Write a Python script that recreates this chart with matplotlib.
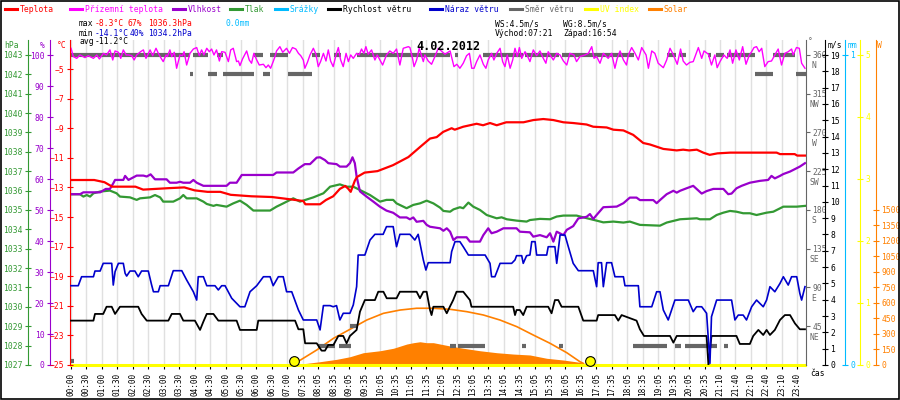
import numpy as np
import matplotlib
matplotlib.use('Agg')
import matplotlib.pyplot as plt
from matplotlib.lines import Line2D
from matplotlib.patches import Rectangle
from matplotlib import transforms

plt.rcParams['font.family'] = ['DejaVu Sans Mono', 'DejaVu Sans']
plt.rcParams['font.size'] = 5.8

# x axis is the sample index (one sample ~ every 5 minutes, a label every 6 samples)
time_labels = ['00:00', '00:30', '01:00', '01:30', '02:00', '02:30', '03:00', '03:30',
               '04:00', '04:30', '05:00', '05:30', '06:00', '06:30', '07:00', '07:35',
               '08:05', '08:35', '09:05', '09:35', '10:05', '10:35', '11:05', '11:35',
               '12:05', '12:35', '13:05', '13:35', '14:05', '14:35', '15:05', '15:35',
               '16:05', '16:35', '17:05', '17:35', '18:05', '18:35', '19:05', '19:35',
               '20:05', '20:35', '21:10', '21:40', '22:10', '22:40', '23:10', '23:40']

# Teplota (degC)
temp_idx = [0, 9, 13, 16, 25, 28, 33, 38, 44, 48, 53, 58, 62, 70, 78, 84, 90.2, 91, 96.7, 99,
            101.8, 104.4, 106.5, 107.7, 108.6, 110.2, 111, 114, 119, 125, 131, 136, 139.4, 142,
            144.5, 147.8, 149, 152.3, 157.5, 160, 162.7, 165.3, 169, 175.7, 179.5, 183.4, 187.3,
            191.2, 195, 200.2, 202.8, 208, 210.6, 214.5, 218.3, 222.2, 224.8, 230, 235.2, 237.7,
            240, 243, 245.5, 248, 251, 256, 274, 275.3, 281, 282, 285]
temp_val = [-12.5, -12.5, -12.65, -12.95, -12.95, -13.15, -13.1, -13.05, -13.0, -13.2, -13.3,
            -13.3, -13.5, -13.6, -13.65, -13.78, -13.92, -14.14, -14.14, -13.85, -13.6, -13.1,
            -12.9, -13.1, -13.3, -12.55, -12.3, -12.0, -11.9, -11.5, -10.95, -10.2, -9.7, -9.6,
            -9.25, -9.0, -9.1, -8.9, -8.7, -8.8, -8.65, -8.8, -8.6, -8.6, -8.45, -8.38, -8.45,
            -8.6, -8.65, -8.75, -8.9, -8.95, -9.1, -9.15, -9.45, -10.0, -10.1, -10.4, -10.5,
            -10.45, -10.5, -10.45, -10.65, -10.8, -10.7, -10.65, -10.65, -10.75, -10.75, -10.85,
            -10.85]

# Prizemni teplota (degC)
ground_idx = [0, 0.9, 2.2, 3.5, 5.4, 6.7, 8.7, 10, 11, 12.6, 13.8, 15.1, 16.2, 17.1, 18.4, 19.3,
              20.3, 21.4, 22.3, 23.6, 24.5, 25.5, 27, 28.1, 29.1, 30.7, 31.7, 33, 33.9, 35, 35.8,
              36.9, 37.4, 38.4, 39.1, 40.1, 41, 42.3, 43.3, 43.9, 44.9, 46.2, 47.5, 48.8, 49.8,
              50.7, 51.6, 52.7, 53.7, 54.6, 55.5, 56.5, 57.6, 58.5, 59.8, 61.1, 62, 63, 64.3, 65,
              65.6, 66.6, 68.2, 69.2, 70.1, 71, 72.1, 73.1, 74.7, 75.7, 76.6, 77.5, 78.5, 79.2,
              79.8, 81.1, 82.2, 83.1, 83.7, 84.8, 86, 87.3, 88.3, 89.2, 90.2, 90.8, 91.8, 92.8,
              94.1, 95.1, 96, 96.9, 98, 99, 99.9, 100.8, 101.8, 102.9, 103.8, 104.7, 105.7, 106.8,
              107.7, 108.6, 109.6, 110.9, 111.9, 112.8, 113.7, 114.5, 115.4, 116.7, 118, 118.9,
              121, 122.5, 123.8, 125.1, 126.4, 127.7, 129, 131, 131.6, 132.6, 133.2, 134.2, 135.2,
              136.8, 137.4, 138.7, 140, 141.3, 142.6, 145.2, 147.2, 148.7, 149.8, 151, 152.3,
              153.6, 154.7, 155.6, 156.5, 157.5, 158.8, 160.1, 161.1, 162, 163.3, 164.2, 165.3,
              166.6, 167.6, 168.5, 169.4, 170.5, 171.5, 172.4, 173.3, 174.1, 175, 176.3, 177.2,
              178.2, 179.5, 180.8, 182.1, 183.4, 184.4, 185.3, 186.2, 187.3, 188.6, 189.9, 191.2,
              192.5, 193.7, 195.3, 196.3, 197.6, 199.6, 200.9, 202.2, 203.1, 204.1, 205.4, 206.7,
              208.6, 209.9, 211.2, 212.1, 213.2, 214.5, 215.7, 216.4, 217.7, 219, 220.3, 221.6,
              223.3, 224.2, 225.5, 226.7, 228, 230, 231.3, 232.6, 233.9, 235.4, 236.7, 237.7, 239,
              240.3, 241.6, 243.6, 244.9, 245.8, 247.5, 248.7, 250, 250.9, 252, 253.5, 254.8,
              255.9, 256.9, 258.2, 259.5, 260.8, 262.1, 263.4, 264.3, 265.2, 266.2, 267.2, 268.2,
              269.4, 270.7, 272, 273.3, 274.6, 275.9, 277.2, 278.5, 279.8, 280.4, 281.7, 282.8,
              283.7, 285]
ground_val = [-3.6, -4.16, -4.28, -4.05, -4.23, -4.1, -4.28, -4.05, -4.32, -3.94, -4.05, -3.71,
              -4.39, -3.78, -3.87, -4.28, -3.71, -4.05, -4.05, -4.1, -4.39, -4.05, -3.83, -3.71,
              -4.28, -3.71, -4.1, -3.6, -3.94, -4.28, -4.5, -4.05, -4.16, -3.71, -4.16, -3.87,
              -4.95, -4.05, -4.1, -3.83, -4.73, -3.94, -3.65, -3.55, -4.1, -3.71, -4.05, -3.6,
              -3.83, -3.65, -4.05, -3.71, -4.46, -3.83, -3.87, -4.5, -3.71, -3.6, -4.5, -4.46,
              -4.77, -4.32, -3.78, -4.39, -4.61, -3.94, -4.39, -4.73, -4.68, -4.91, -4.73, -4.95,
              -4.5, -4.16, -3.78, -3.49, -3.87, -3.71, -3.6, -3.94, -3.55, -3.65, -3.94, -4.1,
              -4.39, -4.95, -4.55, -4.05, -3.6, -4.0, -4.84, -4.5, -3.94, -4.46, -3.71, -4.46,
              -4.84, -4.05, -3.55, -4.39, -4.84, -3.94, -4.5, -4.05, -4.28, -3.94, -4.05, -3.65,
              -3.94, -3.49, -4.0, -3.71, -4.39, -4.05, -4.73, -4.05, -3.78, -3.94, -3.65, -4.73,
              -3.6, -3.49, -3.55, -4.28, -4.84, -4.39, -3.6, -4.5, -4.05, -4.46, -4.68, -4.16,
              -3.6, -4.0, -3.78, -4.84, -4.68, -4.95, -4.61, -4.1, -3.94, -4.95, -4.95, -4.5,
              -4.05, -4.68, -4.95, -4.39, -3.94, -4.39, -3.94, -3.6, -4.5, -4.84, -4.05, -4.95,
              -4.39, -3.6, -4.16, -3.55, -4.28, -3.83, -4.1, -4.5, -3.71, -4.1, -3.78, -4.28,
              -4.61, -3.83, -4.1, -4.39, -3.94, -4.05, -4.46, -4.73, -3.94, -4.05, -4.5, -4.16,
              -4.05, -3.94, -3.49, -4.28, -4.16, -4.61, -3.94, -4.28, -3.94, -4.95, -4.28, -3.78,
              -4.39, -4.73, -4.05, -3.55, -3.94, -4.39, -3.55, -4.05, -4.95, -3.78, -3.94, -4.61,
              -4.91, -4.39, -3.6, -4.05, -4.68, -3.65, -4.46, -4.73, -4.55, -4.5, -3.55, -4.28,
              -3.78, -4.0, -4.73, -4.05, -4.91, -4.5, -4.05, -4.28, -3.71, -4.61, -3.71, -4.39,
              -3.49, -4.68, -4.05, -3.83, -3.55, -3.49, -3.83, -3.6, -4.84, -4.5, -4.46, -4.05,
              -3.65, -4.73, -3.94, -3.83, -3.65, -4.05, -3.55, -3.6, -4.61, -4.95]

# Vlhkost (%)
hum_idx = [0, 3.5, 4.8, 11.3, 13.5, 15.1, 16.4, 17.1, 20.3, 21, 22.3, 25.5, 28.1, 29.4, 30.9, 32.6,
           37.1, 38.4, 41, 42.3, 43.6, 46.2, 47.5, 48.8, 51.4, 60.4, 61.7, 64.3, 66.3, 78.5, 79.8,
           86.3, 88.3, 90.8, 92.8, 95.4, 96.7, 98.6, 99.9, 103.1, 104.4, 107, 108.3, 109.3, 110.2,
           110.9, 112.2, 114.8, 117.4, 119.9, 122.5, 125.1, 127.7, 130.3, 131.6, 132.9, 134.2,
           136.8, 138.1, 139.4, 143.3, 144.6, 145.9, 147.2, 148.5, 149.8, 153.6, 154.9, 158.8,
           160.1, 162, 163.3, 165.3, 167.9, 173, 174.3, 178.2, 179.5, 182.1, 184.7, 186, 187.3,
           188.6, 191.2, 192.5, 195, 197, 200.2, 201.5, 202.8, 204.1, 206.7, 211.9, 214.5, 217,
           219.6, 220.9, 226.1, 227.4, 228.7, 231.3, 233.9, 235.2, 236.5, 239, 241.6, 244.9,
           246.8, 249.4, 253.3, 255.2, 256.5, 258.4, 260.4, 263.6, 267.5, 270.7, 272, 273.3,
           275.3, 276.6, 279.2, 280.4, 283, 285]
hum_val = [55.1, 55.1, 55.7, 55.7, 56.8, 56.8, 58.6, 59.7, 59.7, 61.0, 59.7, 61.1, 61.1, 60.8, 61.5,
           59.9, 59.9, 58.8, 58.8, 59.1, 58.8, 58.8, 59.7, 58.8, 57.8, 57.8, 58.8, 58.8, 61.3, 61.3,
           62.1, 62.1, 63.4, 64.8, 64.8, 66.9, 67.0, 66.1, 65.1, 64.8, 64.0, 64.0, 65.1, 67.0,
           65.1, 60.8, 56.0, 54.3, 52.7, 51.1, 49.8, 49.1, 47.6, 47.6, 47.0, 47.6, 46.2, 46.5,
           45.2, 44.6, 44.1, 43.3, 44.1, 43.0, 40.3, 41.2, 41.2, 39.8, 39.8, 41.9, 44.1, 42.5,
           43.0, 44.1, 44.1, 43.0, 42.8, 41.4, 41.9, 41.2, 42.5, 39.8, 43.0, 41.9, 43.6, 44.8,
           47.3, 47.8, 48.7, 47.1, 48.4, 50.9, 51.1, 52.2, 54.0, 54.0, 53.2, 53.2, 52.2, 53.2,
           55.1, 56.2, 55.6, 56.2, 57.0, 57.8, 55.3, 56.1, 56.8, 56.8, 55.1, 55.3, 57.0, 57.8,
           58.8, 59.4, 59.7, 61.0, 60.2, 61.0, 61.6, 62.4, 62.9, 64.0, 65.1]

# Tlak (hPa)
pres_idx = [0, 3.5, 4.8, 6.1, 7.4, 8.7, 11.3, 15.1, 17.7, 19, 22.9, 25.5, 26.8, 30.7, 32.6, 34.6,
            35.8, 39.7, 42.3, 43.6, 44.9, 48.8, 51.4, 52.7, 55.3, 56.5, 60.4, 63, 65.6, 68.2, 70.8,
            77.3, 79.8, 82.4, 86.3, 88.9, 94.1, 98, 100.6, 104.4, 107, 109.6, 112.2, 116.1, 120,
            122.5, 125.1, 126.4, 130.3, 132.9, 135.5, 138.1, 140.7, 143.3, 144.6, 147.2, 148.5,
            151, 152.3, 154.3, 156.2, 158.8, 161.4, 165.3, 167.2, 169.2, 173, 176.9, 178.2, 182.1,
            186, 188.6, 191.2, 196.3, 198.9, 204.1, 206.7, 210.6, 214.5, 217, 220.9, 228.7, 231.3,
            236.5, 243, 244.2, 248.1, 250.7, 253.3, 255.9, 258.4, 261, 263.6, 266.2, 270.1, 272.7,
            276.6, 281.8, 285]
pres_val = [1035.81, 1035.81, 1035.69, 1035.77, 1035.69, 1035.86, 1035.95, 1036.0, 1035.86,
            1035.69, 1035.65, 1035.52, 1035.6, 1035.65, 1035.77, 1035.65, 1035.43, 1035.43,
            1035.6, 1035.77, 1035.6, 1035.6, 1035.43, 1035.31, 1035.21, 1035.26, 1035.17,
            1035.34, 1035.48, 1035.26, 1034.97, 1034.97, 1035.17, 1035.34, 1035.6, 1035.43,
            1035.65, 1035.86, 1036.2, 1036.32, 1036.2, 1036.2, 1036.03, 1035.77, 1035.43,
            1035.52, 1035.52, 1035.34, 1035.09, 1035.26, 1035.34, 1035.48, 1035.34, 1035.12,
            1034.95, 1034.91, 1035.03, 1035.14, 1035.09, 1035.38, 1035.17, 1035.0, 1034.74,
            1034.57, 1034.62, 1034.52, 1034.45, 1034.4, 1034.48, 1034.54, 1034.52, 1034.66,
            1034.71, 1034.71, 1034.62, 1034.45, 1034.36, 1034.4, 1034.35, 1034.4, 1034.23,
            1034.19, 1034.35, 1034.52, 1034.57, 1034.52, 1034.52, 1034.74, 1034.86, 1034.95,
            1034.91, 1034.83, 1034.83, 1034.74, 1034.86, 1034.91, 1035.17, 1035.17, 1035.21]

# Rychlost vetru (m/s)
speed_idx = [0, 8.7, 9.3, 12.5, 13.8, 15.8, 17.1, 19, 26.1, 27.4, 29.4, 37.8, 39.1, 42.3, 43.6,
             48.1, 50.1, 51.4, 52.7, 55.3, 57.2, 64.3, 65.6, 72.1, 72.7, 87, 88.3, 90.2, 90.9,
             95.4, 97.3, 98.6, 99.9, 101.9, 103.8, 105.7, 107, 108.3, 110.9, 112.2, 114.1, 118,
             119.3, 121.3, 122.6, 126.4, 127.7, 134.2, 135.5, 136.8, 138.1, 139.4, 140, 140.7,
             144.6, 145.9, 147.1, 148.4, 149.7, 152.3, 154.9, 155.5, 171.7, 172.4, 173, 174.3,
             175.6, 176.9, 185.3, 186.6, 187.9, 189.2, 190.5, 197, 198.9, 204.1, 204.7, 211.2,
             212.5, 213.8, 219.6, 220.9, 222.5, 232.6, 233.9, 235.2, 246.8, 247.5, 248.7, 258.4,
             259.7, 263.6, 264.9, 266.9, 268.8, 270.1, 271.4, 273.3, 275.3, 277.2, 279.2, 281.1,
             283, 285]
speed_val = [2.72, 2.72, 3.13, 3.13, 3.57, 3.57, 3.13, 3.57, 3.57, 3.13, 2.72, 2.72, 3.13, 3.13,
             2.72, 2.72, 2.15, 2.66, 3.13, 3.13, 2.72, 2.72, 2.15, 2.15, 2.72, 2.72, 2.19, 2.19,
             1.33, 1.33, 0.88, 0.88, 1.23, 1.23, 1.78, 1.78, 1.33, 1.78, 2.15, 3.27, 3.98, 3.98,
             4.49, 4.49, 4.09, 4.09, 4.49, 4.49, 4.09, 4.49, 4.49, 3.37, 3.06, 3.57, 3.57, 3.17,
             3.57, 3.98, 4.49, 4.49, 3.98, 3.57, 3.57, 3.06, 3.37, 3.37, 3.06, 3.57, 3.57, 3.17,
             3.98, 3.98, 3.57, 3.57, 2.72, 2.72, 3.06, 3.06, 2.72, 3.06, 2.72, 2.19, 1.78, 1.78,
             1.37, 1.78, 1.78, 0.0, 1.78, 1.78, 1.29, 1.29, 1.78, 2.15, 1.84, 2.15, 1.84, 2.15,
             2.76, 3.06, 3.06, 2.55, 2.19, 2.19]

# Naraz vetru (m/s)
gust_idx = [0, 2.8, 4.1, 8.7, 9.3, 11.3, 12.5, 15.8, 16.4, 17.1, 18.4, 20.3, 21, 21.6, 22.9, 24.8,
            26.1, 27.4, 30, 31.3, 32, 33.9, 34.6, 37.8, 39.7, 43, 44.9, 47.5, 48.8, 49.4, 51.4,
            52.7, 55.9, 57.2, 58.5, 59.8, 62.4, 65.6, 67.5, 69.5, 72.1, 74.7, 77.3, 78.5, 80.5,
            82.4, 83.7, 85.7, 88.3, 90.2, 95.4, 96.7, 98, 100.6, 101.8, 103.1, 104.4, 105.7, 108.3,
            109.6, 110.9, 111.5, 114.1, 116.1, 118, 121.2, 122.5, 125.1, 126.4, 127.7, 131.6,
            133.5, 134.8, 136.8, 137.8, 138.7, 147.2, 147.8, 149.1, 151, 152.3, 154.3, 160.8,
            162.7, 163.3, 164.6, 166.6, 171.1, 172.4, 173, 175, 175.6, 176.9, 178.2, 178.9, 180.2,
            180.8, 184.7, 185.3, 187.9, 188.6, 189.9, 191.8, 193.1, 195, 197, 202.8, 204.1, 204.7,
            206, 206.7, 208, 209.9, 211.2, 214.5, 215.1, 220.3, 220.9, 225.5, 227.4, 228.7, 230,
            231.9, 234.5, 239.7, 241.6, 242.9, 244.9, 246.8, 248.1, 248.7, 250.7, 256.5, 257.8,
            259.1, 261, 262.3, 264.3, 266.2, 268.8, 270.1, 271.4, 273.3, 275.3, 276.6, 278.5,
            279.8, 281.8, 283, 283.7, 285]
gust_val = [4.86, 4.86, 5.41, 5.41, 5.76, 5.76, 6.23, 6.23, 4.9, 5.72, 6.23, 6.23, 5.62, 5.45,
            5.76, 5.76, 5.41, 5.76, 5.76, 4.9, 4.49, 4.49, 4.86, 4.86, 5.78, 5.78, 5.21, 4.49,
            3.98, 5.41, 5.41, 4.86, 4.86, 4.6, 4.86, 4.86, 4.09, 3.57, 3.57, 4.49, 4.86, 5.41,
            5.41, 4.86, 5.41, 5.41, 4.49, 4.49, 3.37, 2.76, 2.76, 2.15, 3.64, 3.64, 3.57, 3.64,
            2.76, 3.17, 3.17, 3.68, 4.8, 6.74, 6.74, 7.66, 8.01, 8.01, 8.48, 8.48, 7.25, 8.01,
            8.01, 7.66, 8.01, 6.44, 5.82, 6.27, 6.27, 6.95, 7.56, 7.56, 7.25, 6.74, 6.74, 6.23,
            5.41, 5.41, 6.23, 6.23, 6.44, 6.7, 6.7, 6.23, 6.7, 6.74, 7.56, 7.56, 6.74, 6.74, 7.25,
            7.25, 6.23, 7.97, 7.97, 7.25, 6.23, 5.78, 5.78, 4.8, 6.27, 6.27, 4.8, 6.27, 6.27,
            5.41, 5.41, 4.86, 4.86, 3.57, 3.57, 4.49, 4.49, 3.37, 2.76, 3.98, 3.98, 3.27, 3.57,
            3.57, 3.17, 0.1, 2.96, 3.98, 3.98, 2.76, 3.06, 3.06, 2.76, 3.57, 3.98, 3.57, 3.98,
            4.8, 4.49, 5.0, 5.41, 4.9, 5.41, 5.41, 4.39, 3.98, 4.8]

# Smer vetru (deg): runs of samples with the same direction
dir_start = [0, 0, 47.3, 56.6, 71.1, 77.3, 93.5, 102.1, 110.9, 149.1, 160, 176.3, 190.7, 231.5,
             236.5, 247.4, 250.5, 254.7, 272.6, 46.2, 53.3, 59.1, 74.4, 84.4, 265.6, 281.5,
             95.9, 104.1, 147.2, 150.3, 175.1, 189.5, 218.2, 234.6, 238.4, 248.2, 253.6, 108.3]
dir_end = [1, 46.2, 53.3, 59.1, 74.4, 84.4, 96.7, 104.7, 147.2, 150.3, 175.5, 189.5, 218.6, 235,
           238.8, 248.6, 253.6, 265.6, 281.1, 47.3, 56.6, 71.1, 77.3, 93.5, 272.6, 285.4,
           102.5, 108.7, 149.5, 160.8, 176.7, 191, 231.5, 236.9, 247, 250.9, 255, 111.4]
dir_deg = [5, 360, 360, 360, 360, 360, 360, 360, 360, 360, 360, 360, 360, 360, 360, 360, 360, 360,
           360, 337.5, 337.5, 337.5, 337.5, 337.5, 337.5, 337.5, 22.5, 22.5, 22.5, 22.5, 22.5,
           22.5, 22.5, 22.5, 22.5, 22.5, 22.5, 45]

# UV index
uv_idx = [0, 285]
uv_val = [0, 0]

# Solar (W/m2): measured and the clear-sky curve
solar_idx = [87, 91.5, 96.7, 103.2, 108.3, 113.5, 120, 125.2, 130.4, 133, 135.5, 138, 140.7, 143.3,
             147.2, 152.3, 158.8, 165.3, 171.7, 178.2, 184.7, 191.2, 197.6, 201.5]
solar_val = [5, 16, 32, 55, 80, 119, 138, 162, 203, 216, 225, 216, 216, 203, 184, 162, 138, 119,
             106, 97, 65, 48, 26, 5]
clear_idx = [87.0, 95.4, 101.9, 108.3, 114.8, 121.3, 127.8, 134.2, 140.7, 147.2, 153.7, 160.1,
             166.6, 173.1, 179.5, 186.0, 192.5, 197.6, 198.9]
clear_val = [16, 145, 258, 345, 435, 500, 532, 549, 549, 539, 516, 484, 435, 371, 290, 210, 119,
             32, 16]

sun_idx = [86.7, 201.5]   # vychod 07:21, zapad 16:54

RED = '#FF0000'
MAGENTA = '#FF00FF'
PURPLE = '#9900CC'
GREEN = '#339933'
SKY = '#00BBFF'
BLUE = '#0000CC'
GRAY = '#666666'
YELLOW = '#FFFF00'
ORANGE = '#FF8000'


def fx(px):
    return px / 900.0


def fy(py):
    return 1 - py / 400.0


fig = plt.figure(figsize=(9, 4), dpi=100)
AX_W = 736.0
ax = fig.add_axes([fx(70), 35 / 400.0, AX_W / 900.0, 325 / 400.0])

# base axes: pressure + grid + time axis
ax.set_xlim(-0.4, 285.4)
ax.set_ylim(1027, 1043.77)
ax.set_yticks(range(1027, 1044))
ax.set_yticks(range(1029, 1044, 2), minor=True)
ax.set_xticks(np.arange(len(time_labels)) * 6)
ax.set_xticklabels(time_labels, rotation=90)
ax.grid(True, which='minor', axis='y', color='#e0e0e0', lw=1)
ax.grid(True, which='major', axis='x', color='#e0e0e0', lw=1)
ax.set_axisbelow(True)
ax.tick_params(axis='y', which='minor', length=0)
ax.tick_params(axis='y', which='major', colors=GREEN, direction='inout', length=5, pad=1.5)
ax.tick_params(axis='x', direction='out', length=3, pad=3, labelsize=5.6)
ax.spines['left'].set_position(('axes', -42 / AX_W))
ax.spines['left'].set_color(GREEN)
ax.spines['top'].set_visible(False)
ax.spines['right'].set_visible(False)
ax.plot(pres_idx, pres_val, color=GREEN, lw=1.6)


def side_axis(side, pos, color, lim, ticks, tick_dir='inout', length=5):
    a = ax.twinx()
    a.set_ylim(*lim)
    for s in a.spines.values():
        s.set_visible(False)
    a.spines[side].set_visible(True)
    a.spines[side].set_position(('axes', pos))
    a.spines[side].set_color(color)
    a.yaxis.set_ticks_position(side)
    a.set_yticks(ticks)
    a.tick_params(axis='y', colors=color, direction=tick_dir, length=length, pad=1.5)
    a.patch.set_visible(False)
    return a


ax_s = side_axis('right', 1 + 70 / AX_W, ORANGE, (0, 3145), range(0, 1501, 150))
ax_s.fill_between(solar_idx, solar_val, 0, color=ORANGE, lw=0)
ax_s.plot(clear_idx, clear_val, color=ORANGE, lw=1.2)

ax_uv = side_axis('right', 1 + 54 / AX_W, YELLOW, (0, 5.24), range(0, 6))
ax_uv.plot(uv_idx, uv_val, color=YELLOW, lw=2.2, clip_on=False)

ax_r = side_axis('right', 1 + 39 / AX_W, SKY, (0, 1.048), [0, 1])

ax_d = side_axis('right', 1.0, GRAY, (0, 377.4), range(45, 361, 45), tick_dir='out', length=3)
ax_d.hlines(dir_deg, dir_start, dir_end, colors=GRAY, lw=3.0)
dir_names = ['NE', 'E', 'SE', 'S', 'SW', 'W', 'NW', 'N']
lab_tr = transforms.offset_copy(transforms.blended_transform_factory(ax_d.transAxes, ax_d.transData),
                                fig=fig, x=8, y=-11, units='dots')
for deg, name in zip(range(45, 361, 45), dir_names):
    ax_d.text(1.0, deg, name, color=GRAY, transform=lab_tr, ha='center', va='center')

ax_h = side_axis('left', -20 / AX_W, PURPLE, (0, 104.84), range(0, 101, 10))
ax_h.plot(hum_idx, hum_val, color=PURPLE, lw=1.6)

ax_t = side_axis('left', 0.0, RED, (-25, -3.04), range(-25, -4, 2))
ax_t.plot(ground_idx, ground_val, color=MAGENTA, lw=1.0)
ax_t.plot(temp_idx, temp_val, color=RED, lw=1.6)

ax_w = side_axis('right', 1 + 19 / AX_W, 'black', (0, 19.92), range(0, 20))
ax_w.plot(speed_idx, speed_val, color='black', lw=1.3)
ax_w.plot(gust_idx, gust_val, color=BLUE, lw=1.2)
ax_w.plot(sun_idx, [0, 0], 'o', ms=7, mfc=YELLOW, mec='black', mew=0.8, clip_on=False, zorder=10,
          transform=transforms.offset_copy(ax_w.transData, fig=fig, y=4.5, units='dots'))

# unit labels
fig.text(fx(12), fy(45), 'hPa', color=GREEN, ha='center', va='center')
fig.text(fx(42), fy(45), '%', color=PURPLE, ha='center', va='center')
fig.text(fx(62), fy(45), '°C', color=RED, ha='center', va='center')
fig.text(fx(810), fy(42), '°', color=GRAY, ha='center', va='center')
fig.text(fx(835), fy(45), 'm/s', color='black', ha='center', va='center')
fig.text(fx(853), fy(45), 'mm', color=SKY, ha='center', va='center')
fig.text(fx(879), fy(45), 'W', color=ORANGE, ha='center', va='center')
fig.text(fx(818), fy(373), 'čas', color='black', ha='center', va='center')

# title
fig.text(fx(448), fy(47), '4.02.2012', weight='bold', size=8.5, ha='center', va='center')

# legend row
legend_items = [('Teplota', RED, 5), ('Přízemní teplota', MAGENTA, 70), ('Vlhkost', PURPLE, 173),
                ('Tlak', GREEN, 230), ('Srážky', SKY, 275), ('Rychlost větru', 'black', 328),
                ('Náraz větru', BLUE, 430), ('Směr větru', GRAY, 510), ('UV index', YELLOW, 585),
                ('Solar', ORANGE, 649)]
for name, col, x0 in legend_items:
    fig.add_artist(Line2D([fx(x0), fx(x0 + 12)], [fy(9), fy(9)], color=col, lw=2.2,
                          transform=fig.transFigure))
    fig.text(fx(x0 + 15), fy(9), name, color=col, ha='left', va='center')

# statistics block
stats = [('max', 79, 23, 'black'), ('-8.3°C', 95, 23, RED), ('67%', 128, 23, RED),
         ('1036.3hPa', 148, 23, RED), ('0.0mm', 225, 23, SKY),
         ('min', 79, 33, 'black'), ('-14.1°C', 95, 33, BLUE), ('40%', 130, 33, BLUE),
         ('1034.2hPa', 148, 33, BLUE),
         ('avg', 79, 42, 'black'), ('-11.2°C', 95, 42, 'black'),
         ('WS:4.5m/s', 495, 24, 'black'), ('WG:8.5m/s', 563, 24, 'black'),
         ('Východ:07:21', 495, 34, 'black'), ('Západ:16:54', 563, 34, 'black')]
for txt, x0, y0, col in stats:
    fig.text(fx(x0), fy(y0), txt, color=col, ha='left', va='center')

fig.add_artist(Rectangle((0.0008, 0.002), 0.9985, 0.996, transform=fig.transFigure,
                         fill=False, ec='black', lw=1.2))

fig.savefig('out.png', dpi=100)
